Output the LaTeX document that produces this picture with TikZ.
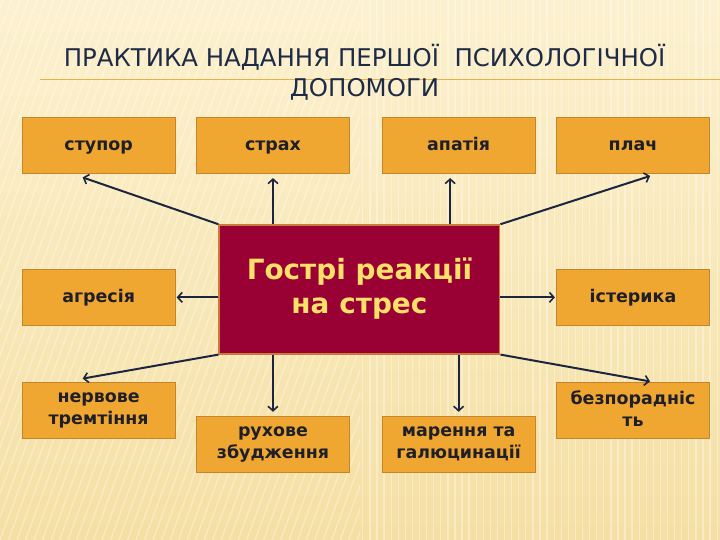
\documentclass[tikz,border=0pt]{standalone}
\usepackage{fontspec}
\setmainfont{DejaVu Sans}
\usepackage{xcolor}
\usetikzlibrary{arrows.meta, positioning, calc}

\definecolor{boxfill}{HTML}{F0A732}
\definecolor{boxline}{HTML}{C4852C}
\definecolor{boxtext}{HTML}{1F1F2A}
\definecolor{corefill}{HTML}{990033}
\definecolor{coreline}{HTML}{CC7A3A}
\definecolor{coretext}{HTML}{FBE06A}
\definecolor{arrcol}{HTML}{1B2540}
\definecolor{titlecol}{HTML}{1E2B47}
\definecolor{rulecol}{HTML}{E0B448}
\definecolor{bgtop}{HTML}{FCF1CF}
\definecolor{bgbot}{HTML}{F5DFA4}

% invisible struts that fix the first and last line of a box
\newcommand{\boxstrut}{\rule[-4pt]{0pt}{18.5pt}}
\newcommand{\tallstrut}{\rule{0pt}{24pt}}
\newcommand{\corestrut}{\rule[-7pt]{0pt}{30.5pt}}
\newcommand{\coretop}{\rule{0pt}{38pt}}

\begin{document}
\begin{tikzpicture}[
  %--- boxes ---
  reaction/.style={
    draw=boxline, fill=boxfill, line width=1pt,
    minimum width=5.4cm, minimum height=2.0cm,
    align=center, text=boxtext,
    font=\fontsize{17.5}{22.5}\selectfont\bfseries,
    execute at begin node=\boxstrut, execute at end node=\boxstrut
  },
  twoline/.style={execute at begin node=\tallstrut},
  core/.style={
    draw=coreline, fill=corefill, line width=1.4pt,
    minimum width=9.9cm, minimum height=4.55cm,
    align=center, text=coretext,
    font=\fontsize{28}{34.5}\selectfont\bfseries,
    execute at begin node=\coretop, execute at end node=\corestrut
  },
  %--- arrows ---
  rarr/.style={
    -{Straight Barb[length=4.5pt, width=10pt, line width=1.6pt]},
    arrcol, line width=2pt, shorten >=1pt
  }
]

%------------------------------------------------------------------
%  Background and title
%------------------------------------------------------------------
\useasboundingbox (0,0) rectangle (25.4,19.05);
\fill[top color=bgtop, bottom color=bgbot] (0,0) rectangle (25.4,19.05);

\begin{scope}
  \clip (0,0) rectangle (12.7,19.05);
  \foreach \i in {-12,-11.7,...,13}
    \draw[white, opacity=0.35, line width=1.3pt] (\i,0) -- ++(7,19.05);
\end{scope}
\begin{scope}
  \clip (12.7,0) rectangle (25.4,19.05);
  \foreach \i in {12.8,13.05,...,25.4}
    \draw[white, opacity=0.35, line width=1.3pt] (\i,0) -- (\i,19.05);
\end{scope}

\draw[rulecol, line width=1.6pt] (1.41,16.25) -- (25.4,16.25);

\node[anchor=base, text=titlecol, font=\fontsize{24.5}{31}\selectfont]
  (title1) at (12.86,16.72) {ПРАКТИКА НАДАННЯ ПЕРШОЇ\ \ ПСИХОЛОГІЧНОЇ};
\node[anchor=base, text=titlecol, font=\fontsize{24.5}{31}\selectfont]
  (title2) at (12.86,15.63) {ДОПОМОГИ};

%------------------------------------------------------------------
%  Nodes
%------------------------------------------------------------------
\node[core] (core) at (12.68, 8.84) {Гострі реакції\\на стрес};

\node[reaction] (stupor)   at (3.48, 13.92) {ступор};
\node[reaction] (strah)    at (9.63, 13.92) {страх};
\node[reaction] (apatia)   at (16.18, 13.92) {апатія};
\node[reaction] (plach)    at (22.33, 13.92) {плач};

\node[reaction] (agresia)  at (3.48, 8.56) {агресія};
\node[reaction] (isteryka) at (22.33, 8.56) {істерика};

\node[reaction, twoline] (tremtinnia)   at (3.48, 4.57)  {нервове\\тремтіння};
\node[reaction, twoline] (zbudzhennia)  at (9.63, 3.37)  {рухове\\збудження};
\node[reaction, twoline] (marennia)     at (16.18, 3.37) {марення та\\галюцинації};
\node[reaction, twoline] (bezporadnist) at (22.33, 4.57) {безпораднiс\\ть};

%------------------------------------------------------------------
%  Arrows
%------------------------------------------------------------------
\draw[rarr] (core.north west) -- ($(stupor.south west)+(2.12,-0.1)$);
\draw[rarr] (strah.south |- core.north) -- ($(strah.south)+(0,-0.1)$);
\draw[rarr] ($(apatia.south |- core.north)+(-0.3,0)$) -- ($(apatia.south)+(-0.3,-0.1)$);
\draw[rarr] (core.north east) -- ($(plach.south east)+(-2.08,-0.05)$);

\draw[rarr] (core.west |- agresia) -- (agresia.east);
\draw[rarr] (core.east |- isteryka) -- (isteryka.west);

\draw[rarr] (core.south west) -- ($(tremtinnia.north west)+(2.12,0.1)$);
\draw[rarr] (zbudzhennia.north |- core.south) -- ($(zbudzhennia.north)+(0,0.1)$);
\draw[rarr] (marennia.north |- core.south) -- ($(marennia.north)+(0,0.1)$);
\draw[rarr] (core.south east) -- ($(bezporadnist.north east)+(-2.08,0)$);

\end{tikzpicture}
\end{document}
